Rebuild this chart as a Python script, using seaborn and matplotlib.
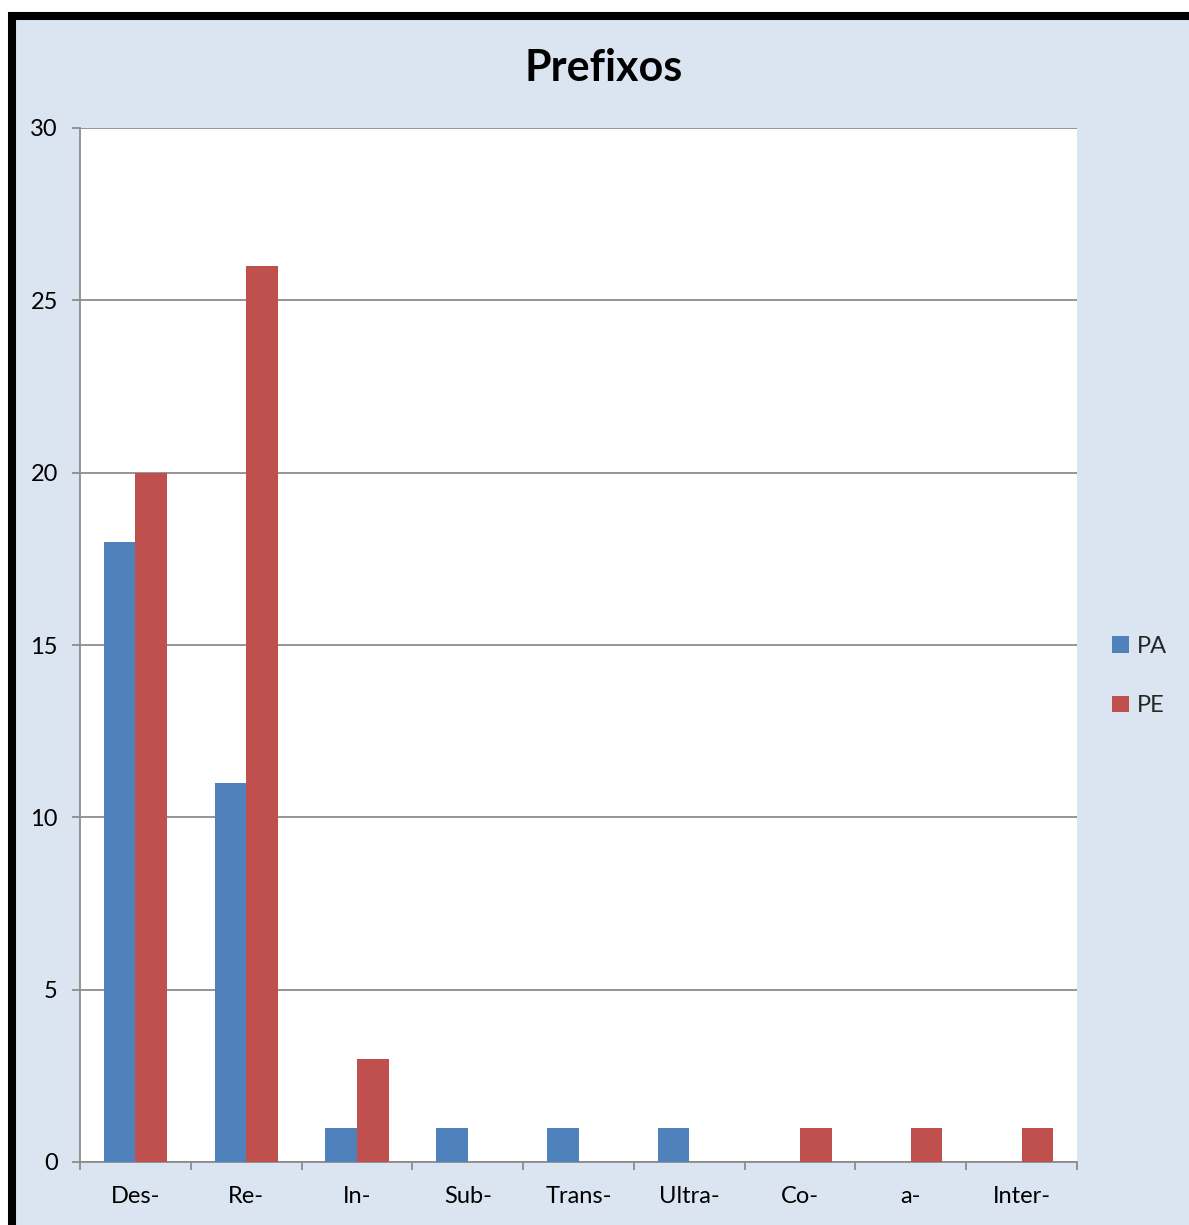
import matplotlib
matplotlib.use("Agg")
import matplotlib.pyplot as plt
import seaborn as sns
import pandas as pd
from matplotlib.patches import Rectangle

categories = ["Des-", "Re-", "In-", "Sub-", "Trans-", "Ultra-", "Co-", "a-", "Inter-"]
pa_values = [18, 11, 1, 1, 1, 1, 0, 0, 0]
pe_values = [20, 26, 3, 0, 0, 0, 1, 1, 1]
series_names = ["PA", "PE"]
y_ticks = [0, 5, 10, 15, 20, 25, 30]

df = pd.DataFrame({
    "Prefixo": categories * 2,
    "Serie": [series_names[0]] * len(categories) + [series_names[1]] * len(categories),
    "Valor": pa_values + pe_values,
})

sns.set_theme(style="white")
plt.rcParams["font.family"] = ["Lato", "DejaVu Sans"]

W, H = 1189, 1225
fig = plt.figure(figsize=(W / 100, H / 100), dpi=100, facecolor="white")

# outer chart frame (black border, light blue fill)
frame = Rectangle((12 / W, -0.2), 2.0, (H - 16) / H + 0.2, transform=fig.transFigure,
                  facecolor="#DBE5F1", edgecolor="black", linewidth=5.8, zorder=-5,
                  clip_on=False)
fig.patches.append(frame)

ax = fig.add_axes([80 / W, 1 - 1162 / H, (1077 - 80) / W, (1162 - 128) / H])
ax.set_facecolor("white")

sns.barplot(data=df, x="Prefixo", y="Valor", hue="Serie", order=categories,
            hue_order=series_names, palette=["#4F81BD", "#C0504D"], width=0.57,
            saturation=1, ax=ax, legend=True, zorder=3, linewidth=0)

ax.set_xlim(-0.5, len(categories) - 0.5)
ax.set_ylim(0, 30)
ax.set_yticks(y_ticks)
ax.set_yticklabels([str(v) for v in y_ticks])
ax.set_xlabel("")
ax.set_ylabel("")

grid_c = "#8C8C8C"
ax.yaxis.grid(True, color=grid_c, linewidth=1.3, zorder=0)
ax.set_axisbelow(True)
for s in ["top", "right"]:
    ax.spines[s].set_visible(False)
for s in ["left", "bottom"]:
    ax.spines[s].set_color(grid_c)
    ax.spines[s].set_linewidth(1.3)

ax.tick_params(axis="y", which="major", direction="out", length=6, width=1.3,
               color=grid_c, labelsize=17, labelcolor="black", pad=10, left=True)
ax.set_xticks([i - 0.5 for i in range(len(categories) + 1)], minor=True)
ax.tick_params(axis="x", which="minor", direction="out", length=6, width=1.3,
               color=grid_c, bottom=True)
ax.tick_params(axis="x", which="major", length=0, labelsize=17, labelcolor="black", pad=17)

# legend
handles, labels = ax.get_legend_handles_labels()
ax.legend_.remove()
fig.legend(handles, labels, loc="center left", bbox_to_anchor=(1091 / W, 1 - 676 / H),
           frameon=False, fontsize=17, handlelength=0.7, handleheight=0.7,
           handletextpad=0.35, labelspacing=1.65)

fig.text(604 / W, 1 - 68 / H, "Prefixos", ha="center", va="center",
         fontsize=31, fontweight="bold", color="black")

fig.savefig("out.png", dpi=100, facecolor=fig.get_facecolor())
